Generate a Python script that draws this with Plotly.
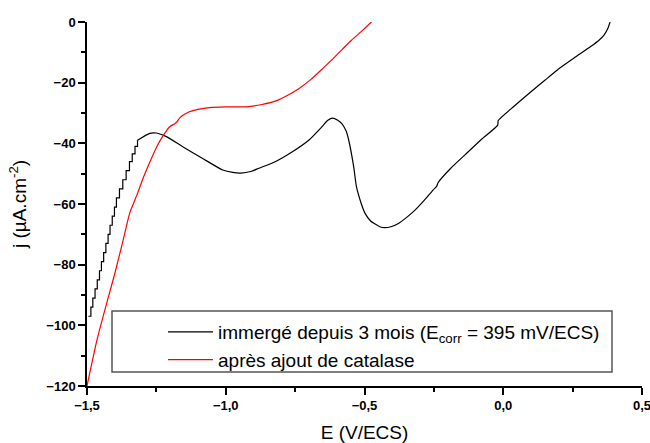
import plotly.graph_objects as go

# Black curve: staircase part (E in V/ECS, j in µA/cm²)
E_black_steps = [-1.495, -1.486, -1.479, -1.471, -1.463, -1.455, -1.448, -1.440, -1.432, -1.424,
                 -1.417, -1.409, -1.401, -1.394, -1.383, -1.371, -1.359, -1.347, -1.337, -1.327, -1.318]
j_black_steps = [-97, -94, -91, -88, -85, -82, -79, -76, -73, -70,
                 -67, -64, -61, -58, -55, -52, -49, -46, -43.5, -41, -39]

# Black curve: smooth part
E_black = [-1.318, -1.274, -1.25, -1.214, -1.155, -1.083, -1.011, -0.975, -0.945, -0.91,
           -0.88, -0.82, -0.76, -0.70, -0.653, -0.632, -0.615, -0.598, -0.581,
           -0.567, -0.557, -0.539, -0.529, -0.513, -0.498, -0.478, -0.462, -0.445, -0.428,
           -0.405, -0.378, -0.348, -0.318, -0.285, -0.253, -0.24, -0.235, -0.19, -0.139,
           -0.08, -0.02, -0.018, 0.04, 0.10, 0.15, 0.195, 0.255, 0.315, 0.345, 0.363, 0.376, 0.385]
j_black = [-39, -36.7, -36.6, -37.8, -41.1, -45, -48.8, -49.6, -49.8, -49.3,
           -48.2, -46, -42.8, -38.9, -34.5, -32.4, -31.7, -32.3, -33.6,
           -35.8, -38.9, -47.7, -54.3, -59.5, -63.1, -65.6, -66.6, -67.5, -67.8,
           -67.5, -66.4, -64.4, -62, -58.8, -55.4, -54.2, -53, -48.3, -43.9,
           -38.8, -34, -32.5, -27.7, -23, -19.2, -15.8, -11.9, -8.1, -6, -4.3, -2.3, 0]

# Red curve: after catalase addition
E_red = [-1.5, -1.464, -1.43, -1.40, -1.37, -1.346, -1.32, -1.30, -1.275, -1.249, -1.225, -1.203,
         -1.185, -1.177, -1.165, -1.15, -1.131, -1.10, -1.059, -1.0, -0.95, -0.916, -0.87,
         -0.819, -0.78, -0.737, -0.694, -0.65, -0.618, -0.58, -0.547, -0.51, -0.475]
j_red = [-120, -104.8, -93, -83, -72, -63, -57, -52, -46.5, -41.2, -37.4, -34.6,
         -33.6, -33.0, -31.5, -30.5, -29.6, -28.8, -28.2, -28, -28, -27.9, -27.2,
         -26, -24.3, -22, -19, -15.3, -12.5, -9, -6, -3, 0]

name_black = "immergé depuis 3 mois (E<sub>corr</sub> = 395 mV/ECS)"
name_red = "après ajout de catalase"

x_ticks = [-1.5, -1.0, -0.5, 0.0, 0.5]
y_ticks = [0, -20, -40, -60, -80, -100, -120]

fig = go.Figure()
fig.add_trace(go.Scatter(x=E_black_steps, y=j_black_steps, mode="lines",
                         line=dict(color="black", width=1.2, shape="hv"),
                         legendgroup="b", showlegend=False, hoverinfo="skip"))
fig.add_trace(go.Scatter(x=E_black, y=j_black, mode="lines", name=name_black,
                         line=dict(color="black", width=1.2, shape="spline", smoothing=0.6),
                         legendgroup="b"))
fig.add_trace(go.Scatter(x=E_red, y=j_red, mode="lines", name=name_red,
                         line=dict(color="#ff0000", width=1.2, shape="spline", smoothing=0.6)))

axis_font = dict(family="Liberation Sans, Arial, sans-serif", size=13, color="black", weight="bold")

L, R, T, B = 87, 8, 22, 57
PW, PH = 650 - L - R, 443 - T - B

fig.update_layout(
    width=650, height=443,
    margin=dict(l=L, r=R, t=T, b=B, autoexpand=False),
    paper_bgcolor="white", plot_bgcolor="white",
    separators=", ",
    font=dict(family="Liberation Sans, Arial, sans-serif", color="black"),
    showlegend=True,
    legend=dict(x=(163 - L) / PW, y=(386 - 313) / PH, xanchor="left", yanchor="top",
                bgcolor="rgba(0,0,0,0)", borderwidth=0,
                font=dict(size=19, color="black"),
                itemwidth=45, tracegroupgap=0),
    xaxis=dict(range=[-1.5, 0.5], tickvals=x_ticks, tickformat=".1f",
               showline=True, linecolor="black", linewidth=1.5,
               ticks="outside", ticklen=7, tickwidth=1.5, tickcolor="black",
               minor=dict(dtick=0.25, ticks="outside", ticklen=4, tickwidth=1.5, tickcolor="black"),
               showgrid=False, zeroline=False, tickfont=axis_font,
               ticklabeloverflow="allow",
               title=dict(text="E (V/ECS)", font=dict(size=19), standoff=16)),
    yaxis=dict(range=[-120, 0], tickvals=y_ticks,
               showline=True, linecolor="black", linewidth=1.5,
               ticks="outside", ticklen=7, tickwidth=1.5, tickcolor="black",
               minor=dict(dtick=10, ticks="outside", ticklen=4, tickwidth=1.5, tickcolor="black"),
               showgrid=False, zeroline=False, tickfont=axis_font,
               ticklabeloverflow="allow",
               title=dict(text="j (µA.cm<sup>-2</sup>)", font=dict(size=19), standoff=15)),
    shapes=[dict(type="rect", xref="paper", yref="paper",
                 x0=(112 - L) / PW, x1=(612 - L) / PW,
                 y0=(386 - 372) / PH, y1=(386 - 311) / PH,
                 line=dict(color="#555555", width=1.5), fillcolor="rgba(0,0,0,0)")],
)

fig.write_html("out.html", config={"displayModeBar": False},
               post_script="document.body.style.margin='0';document.body.style.overflow='hidden';")
